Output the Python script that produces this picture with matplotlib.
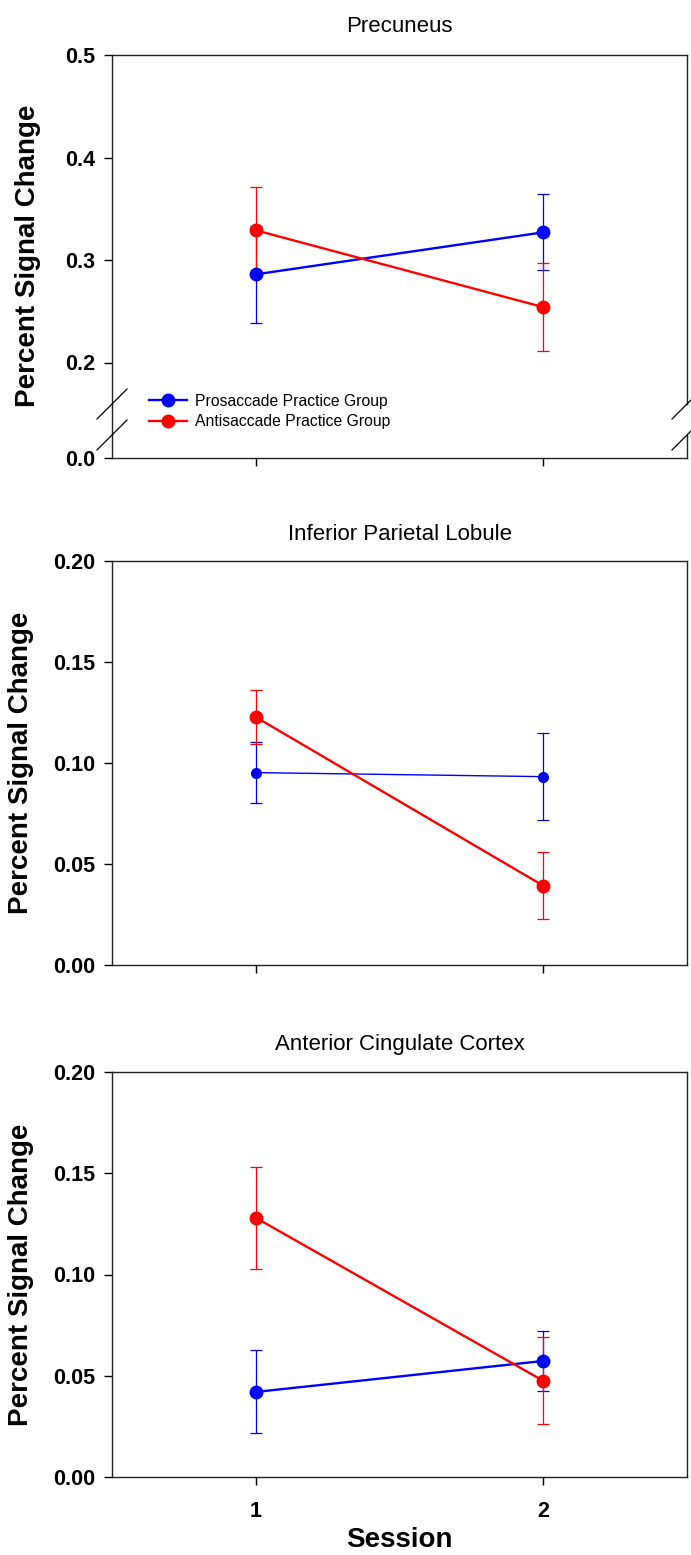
import matplotlib
matplotlib.use("Agg")
import matplotlib.pyplot as plt
from matplotlib.lines import Line2D

plt.rcParams['font.family'] = ['Liberation Sans', 'DejaVu Sans']

# data
sessions = [1, 2]
groups = ['Prosaccade Practice Group', 'Antisaccade Practice Group']
titles = ['Precuneus', 'Inferior Parietal Lobule', 'Anterior Cingulate Cortex']

prec_pro_mean = [0.286, 0.327]
prec_pro_sem = [0.047, 0.037]
prec_anti_mean = [0.329, 0.254]
prec_anti_sem = [0.042, 0.043]

ipl_pro_mean = [0.095, 0.093]
ipl_pro_sem = [0.015, 0.0215]
ipl_anti_mean = [0.1225, 0.039]
ipl_anti_sem = [0.0135, 0.0165]

acc_pro_mean = [0.042, 0.0573]
acc_pro_sem = [0.0205, 0.015]
acc_anti_mean = [0.128, 0.0475]
acc_anti_sem = [0.0253, 0.0215]

W, H = 691, 1555
LEFT, RIGHT = 112, 687
BLUE, RED = '#0000FF', '#FF0000'

fig = plt.figure(figsize=(W / 100, H / 100), dpi=100)


def make_ax(top, bottom):
    return fig.add_axes([LEFT / W, 1 - bottom / H, (RIGHT - LEFT) / W, (bottom - top) / H])


def style(ax):
    for s in ax.spines.values():
        s.set_linewidth(1.0)
        s.set_color('#222222')
    ax.tick_params(direction='out', length=6, width=1, labelsize=15.5)
    ax.tick_params(axis='y', right=False, pad=6)
    ax.tick_params(axis='x', top=False)
    for lab in ax.get_yticklabels() + ax.get_xticklabels():
        lab.set_fontweight('bold')
    ax.set_xlim(0.5, 2.5)
    ax.set_xticks(sessions)


def draw(ax, pro_m, pro_s, anti_m, anti_s, small_pro=False):
    ax.errorbar(sessions, pro_m, yerr=pro_s, color=BLUE, marker='o',
                ms=7 if small_pro else 9, lw=1.0 if small_pro else 1.7,
                elinewidth=0.9, capsize=4.5, capthick=0.9)
    ax.errorbar(sessions, anti_m, yerr=anti_s, color=RED, marker='o',
                ms=9, lw=1.7, elinewidth=0.9, capsize=4.5, capthick=0.9)


# panel 1 - broken axis
ax1 = make_ax(55, 404)
ax1b = make_ax(435, 458)
draw(ax1, prec_pro_mean, prec_pro_sem, prec_anti_mean, prec_anti_sem)
ax1.set_ylim(0.5 - 349 / 1025, 0.5)
ax1.set_yticks([0.2, 0.3, 0.4, 0.5])
ax1.set_yticklabels(['0.2', '0.3', '0.4', '0.5'])
ax1.spines['bottom'].set_visible(False)
ax1b.set_ylim(0, 23 / 1025)
ax1b.set_yticks([0.0])
ax1b.set_yticklabels(['0.0'])
ax1b.spines['top'].set_visible(False)
style(ax1)
style(ax1b)
ax1.tick_params(axis='x', bottom=False, labelbottom=False)
ax1b.set_xticklabels([])
ax1.set_title(titles[0], fontsize=16, pad=16.5)
ax1.set_ylabel('Percent Signal Change', fontsize=20, fontweight='bold')
ax1.yaxis.set_label_coords(-0.123, (404 - 256) / 349)

# break marks and spine link
fig.add_artist(Line2D([LEFT / W, LEFT / W], [1 - 404 / H, 1 - 435 / H], color='#222222', lw=1.0))
for xb in (LEFT, RIGHT):
    for yb in (404, 435):
        fig.add_artist(Line2D([(xb - 15) / W, (xb + 15) / W],
                              [1 - (yb + 15) / H, 1 - (yb - 15) / H],
                              color='black', lw=0.9))

handles = [Line2D([], [], color=BLUE, marker='o', ms=9, lw=1.7),
           Line2D([], [], color=RED, marker='o', ms=9, lw=1.7)]
fig.legend(handles, groups, loc='center left', bbox_to_anchor=(149 / W, 1 - 411.5 / H),
           frameon=False, fontsize=11.3, handlelength=2.4, handletextpad=0.5,
           labelspacing=0.35, borderpad=0, borderaxespad=0)

# panel 2
ax2 = make_ax(560.5, 964.5)
draw(ax2, ipl_pro_mean, ipl_pro_sem, ipl_anti_mean, ipl_anti_sem, small_pro=True)
ax2.set_ylim(0, 0.2)
ax2.set_yticks([0.0, 0.05, 0.10, 0.15, 0.20])
ax2.set_yticklabels(['0.00', '0.05', '0.10', '0.15', '0.20'])
style(ax2)
ax2.set_xticklabels([])
ax2.set_title(titles[1], fontsize=16, pad=14.5)
ax2.set_ylabel('Percent Signal Change', fontsize=20, fontweight='bold')
ax2.yaxis.set_label_coords(-0.136, 0.5)

# panel 3
ax3 = make_ax(1072, 1477)
draw(ax3, acc_pro_mean, acc_pro_sem, acc_anti_mean, acc_anti_sem)
ax3.set_ylim(0, 0.2)
ax3.set_yticks([0.0, 0.05, 0.10, 0.15, 0.20])
ax3.set_yticklabels(['0.00', '0.05', '0.10', '0.15', '0.20'])
style(ax3)
ax3.tick_params(axis='x', pad=11)
ax3.set_title(titles[2], fontsize=16, pad=15.5)
ax3.set_ylabel('Percent Signal Change', fontsize=20, fontweight='bold')
ax3.yaxis.set_label_coords(-0.136, 0.5)
ax3.set_xlabel('Session', fontsize=20, fontweight='bold', labelpad=4)

fig.savefig('out.png', dpi=100)
